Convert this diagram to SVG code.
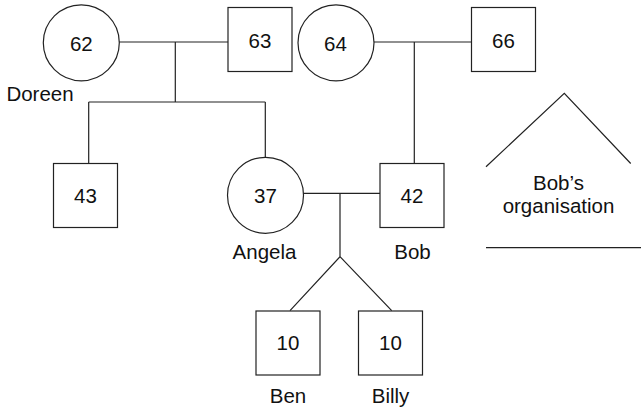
<svg xmlns="http://www.w3.org/2000/svg" width="643" height="410" viewBox="0 0 643 410">
<style>
.s{fill:#fff;stroke:#222;stroke-width:1.2}
.l{fill:none;stroke:#222;stroke-width:1.2}
text{font-family:"Liberation Sans",Arial,sans-serif;font-size:20.5px;fill:#111;text-anchor:middle}
</style>
<rect width="643" height="410" fill="#fff"/>
<g id="connectors">
<path class="l" d="M119,42 H228 M175.3,42 V102 M88.7,102 H265.3 M88.7,102 V163.5 M265.3,102 V157.3"/>
<path class="l" d="M374,42 H471.5 M414.3,42 V163.5"/>
<path class="l" d="M303.3,193.3 H380 M340,193.3 V256.7 L290,310.7 M340,256.7 L391.7,310.7"/>
</g>
<g id="n62"><circle class="s" cx="81.3" cy="42.8" r="38"/><text x="81.3" y="50.5">62</text></g>
<g id="doreen"><text x="40" y="101">Doreen</text></g>
<g id="n63"><rect class="s" x="228" y="7.5" width="64" height="64"/><text x="260" y="47.5">63</text></g>
<g id="n64"><circle class="s" cx="336" cy="42.8" r="38"/><text x="335.5" y="50.5">64</text></g>
<g id="n66"><rect class="s" x="471.5" y="7.5" width="64" height="64"/><text x="503.5" y="47.5">66</text></g>
<g id="n43"><rect class="s" x="53.5" y="163.5" width="64" height="64"/><text x="85.5" y="203">43</text></g>
<g id="n37"><circle class="s" cx="265.5" cy="195.3" r="38"/><text x="265.5" y="203">37</text><text x="264.5" y="259.3">Angela</text></g>
<g id="n42"><rect class="s" x="380" y="163.5" width="64" height="64"/><text x="412" y="203">42</text><text x="412.5" y="259.3">Bob</text></g>
<g id="ben"><rect class="s" x="256" y="311" width="64" height="64"/><text x="288" y="350">10</text><text x="288" y="402.7">Ben</text></g>
<g id="billy"><rect class="s" x="358.5" y="311" width="64" height="64"/><text x="390.5" y="350">10</text><text x="390.5" y="402.7">Billy</text></g>
<g id="org">
<path class="l" d="M486,166.7 L564.3,93.3 L630.7,163.5 M486,247.7 H641"/>
<text x="558.5" y="190">Bob’s</text>
<text x="558.5" y="213">organisation</text>
</g>
</svg>
